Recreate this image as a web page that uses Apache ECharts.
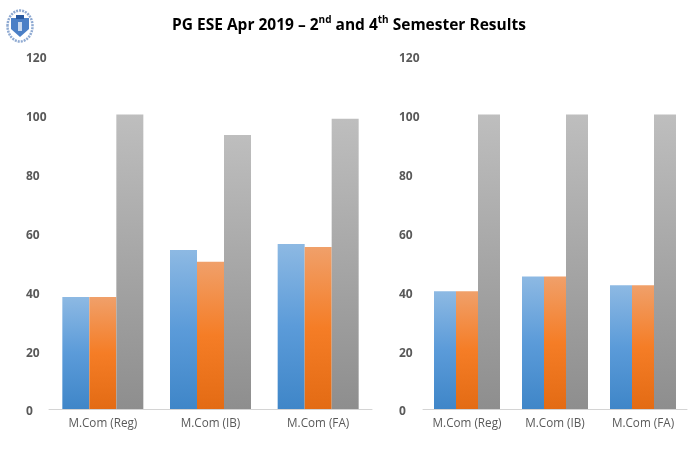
<!DOCTYPE html>
<html>
<head>
<meta charset="utf-8">
<style>
html, body { margin: 0; padding: 0; background: #fff; }
#main { width: 700px; height: 450px; }
</style>
<script src="https://cdn.jsdelivr.net/npm/echarts@6/dist/echarts.min.js"></script>
</head>
<body>
<div id="main"></div>
<script>
var categories = ['M.Com (Reg)', 'M.Com (IB)', 'M.Com (FA)'];
var sem2Blue = [38, 54, 56];
var sem2Orange = [38, 50, 55];
var sem2Grey = [100, 93, 98.5];
var sem4Blue = [40, 45, 42];
var sem4Orange = [40, 45, 42];
var sem4Grey = [100, 100, 100];

var fontName = '"Open Sans", sans-serif';

function fade(top, mid, bottom) {
    return new echarts.graphic.LinearGradient(0, 0, 0, 1, [
        { offset: 0, color: top },
        { offset: 0.5, color: mid },
        { offset: 1, color: bottom }
    ]);
}
var blue = fade('#8db9e3', '#5b9bd9', '#3f86c8');
var orange = fade('#f0a06a', '#f57d26', '#e36b14');
var grey = fade('#bebebe', '#a6a6a6', '#8e8e8e');

function barSeries(data, color, axisIndex, width) {
    return {
        type: 'bar',
        xAxisIndex: axisIndex,
        yAxisIndex: axisIndex,
        data: data,
        barWidth: width,
        barGap: 0,
        itemStyle: { color: color }
    };
}

function xAxis(gridIndex) {
    return {
        type: 'category',
        gridIndex: gridIndex,
        data: categories,
        axisTick: { show: false },
        axisLine: { lineStyle: { color: '#d4d4d4', width: 1 } },
        axisLabel: { interval: 0, color: '#595959', fontFamily: fontName, fontSize: 11.7, margin: 9 }
    };
}

function yAxis(gridIndex, offset) {
    return {
        type: 'value',
        gridIndex: gridIndex,
        min: 0,
        max: 120,
        interval: 20,
        offset: offset,
        splitLine: { show: false },
        axisLine: { show: false },
        axisTick: { show: false },
        axisLabel: {
            color: '#595959',
            fontFamily: fontName,
            fontSize: 12,
            fontWeight: 'bold',
            margin: 0,
            align: 'left',
            verticalAlign: 'top',
            lineHeight: 6
        }
    };
}

var chart = echarts.init(document.getElementById('main'));
chart.setOption({
    backgroundColor: '#fff',
    animation: false,
    title: {
        text: 'PG ESE Apr 2019 – 2{sup|nd} and 4{sup|th} Semester Results',
        left: 167,
        top: 10,
        textStyle: {
            color: '#000',
            fontFamily: fontName,
            fontSize: 15.5,
            fontWeight: 'bold',
            rich: {
                sup: { fontSize: 10, fontFamily: fontName, fontWeight: 'bold', color: '#000', verticalAlign: 'top', lineHeight: 22 }
            }
        }
    },
    grid: [
        { left: 49, right: 328, top: 55.5, bottom: 41 },
        { left: 423, right: 13, top: 55.5, bottom: 41 }
    ],
    xAxis: [xAxis(0), xAxis(1)],
    yAxis: [yAxis(0, 23), yAxis(1, 24)],
    series: [
        barSeries(sem2Blue, blue, 0, 27),
        barSeries(sem2Orange, orange, 0, 27),
        barSeries(sem2Grey, grey, 0, 27),
        barSeries(sem4Blue, blue, 1, 22),
        barSeries(sem4Orange, orange, 1, 22),
        barSeries(sem4Grey, grey, 1, 22)
    ],
    // college crest in the corner
    graphic: [
        { type: 'ellipse', shape: { cx: 20, cy: 26, rx: 12.5, ry: 15.5 }, style: { fill: 'none', stroke: '#8faad2', lineWidth: 2.5, lineDash: [2, 1] } },
        { type: 'polygon', shape: { points: [[11, 18], [29, 18], [29, 29], [20, 37], [11, 29]] }, style: { fill: '#4a7fc6' } },
        { type: 'rect', shape: { x: 16, y: 15, width: 8, height: 4 }, style: { fill: '#2a5aa0' } },
        { type: 'rect', shape: { x: 18, y: 22, width: 4, height: 9 }, style: { fill: '#c9d9ef' } }
    ]
});
</script>
</body>
</html>
